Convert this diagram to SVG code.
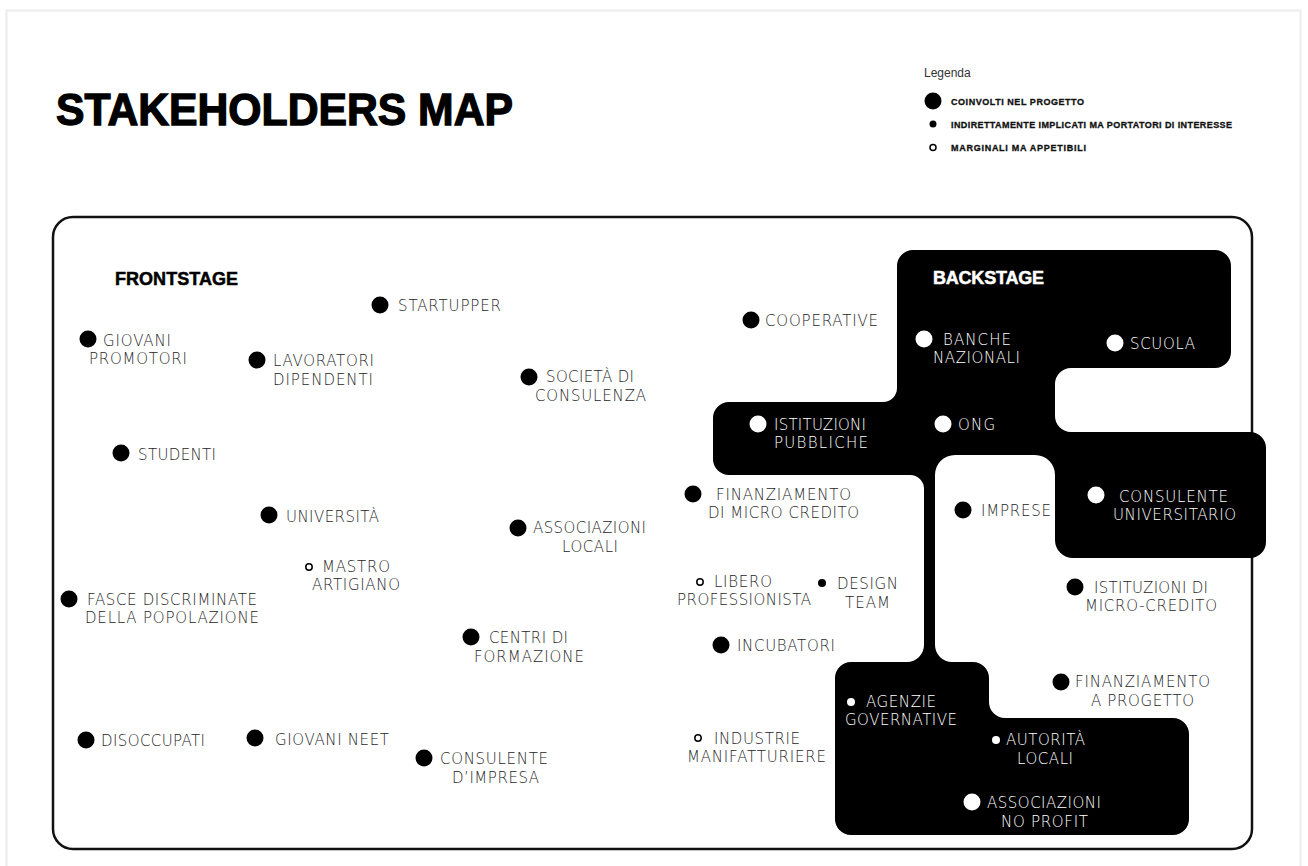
<svg xmlns="http://www.w3.org/2000/svg" width="1308" height="866" viewBox="0 0 1308 866">
<style>
.t{font-family:"DejaVu Sans","Open Sans",sans-serif;font-size:15px;font-weight:200;fill:#262626;text-anchor:middle}
.w{font-family:"DejaVu Sans","Open Sans",sans-serif;font-size:15px;font-weight:200;fill:#ffffff;text-anchor:middle}
.h{font-family:"Liberation Sans",Arial,sans-serif;font-weight:bold}
.lg{font-family:"Liberation Sans",Arial,sans-serif;font-weight:bold;font-size:9px;fill:#111;stroke:#111;stroke-width:0.3}
.big{fill:#000}
.bigw{fill:#fff}
.sm{fill:#000}
.smw{fill:#fff}
.ho{fill:#fff;stroke:#000;stroke-width:1.5}
</style>
<rect x="0" y="0" width="1308" height="866" fill="#ffffff"/>
<rect x="6.5" y="10.5" width="1294" height="880" fill="none" stroke="#ececec" stroke-width="2"/>

<text class="h" x="56" y="125" font-size="44" textLength="457" lengthAdjust="spacingAndGlyphs" fill="#000" stroke="#000" stroke-width="1.3">STAKEHOLDERS MAP</text>

<g id="legend">
<text x="924" y="77" font-family="Liberation Sans, Arial, sans-serif" font-size="12" fill="#333">Legenda</text>
<circle cx="933" cy="101" r="8.5" fill="#000"/>
<text class="lg" x="951" y="104.5" textLength="133">COINVOLTI NEL PROGETTO</text>
<circle cx="933" cy="124" r="3.5" fill="#000"/>
<text class="lg" x="951" y="127.5" textLength="281">INDIRETTAMENTE IMPLICATI MA PORTATORI DI INTERESSE</text>
<circle cx="933" cy="147.5" r="3" class="ho"/>
<text class="lg" x="951" y="151" textLength="135">MARGINALI MA APPETIBILI</text>
</g>

<rect id="frame" x="53" y="217" width="1199" height="632" rx="20" fill="none" stroke="#111" stroke-width="2.5"/>

<g id="backstage-area">
<path fill="#000" d="M897,266 A16,16 0 0 1 913,250 H1215 A16,16 0 0 1 1231,266 V352 A16,16 0 0 1 1215,368 H1071 A16,16 0 0 0 1055,384 V416 A16,16 0 0 0 1071,432 H1250 A16,16 0 0 1 1266,448 V542 A16,16 0 0 1 1250,558 H1073 A18,18 0 0 1 1055,540 V475 A20,20 0 0 0 1035,455 H955 A20,20 0 0 0 935,475 V645 A17,17 0 0 0 952,662 H973 A16,16 0 0 1 989,678 V702 A16,16 0 0 0 1005,718 H1173 A16,16 0 0 1 1189,734 V819 A16,16 0 0 1 1173,835 H851 A16,16 0 0 1 835,819 V678 A16,16 0 0 1 851,662 H907 A17,17 0 0 0 924,645 V489 A14,14 0 0 0 910,475 H729 A16,16 0 0 1 713,459 V418 A16,16 0 0 1 729,402 H883 A14,14 0 0 0 897,388 Z"/>
<text class="h" x="933" y="284" font-size="18" textLength="111" fill="#fff" stroke="#fff" stroke-width="0.5">BACKSTAGE</text>
</g>

<text id="frontstage-title" class="h" x="115" y="285" font-size="18" textLength="123" fill="#000" stroke="#000" stroke-width="0.5">FRONTSTAGE</text>

<g id="connectors"></g>

<g id="giovani-promotori"><circle class="big" cx="88" cy="339" r="8.5"/><text class="t" x="137" y="346" textLength="68">GIOVANI</text><text class="t" x="138" y="364" textLength="98">PROMOTORI</text></g>
<g id="startupper"><circle class="big" cx="380" cy="305" r="8.5"/><text class="t" x="449.5" y="311" textLength="103">STARTUPPER</text></g>
<g id="lavoratori-dipendenti"><circle class="big" cx="257" cy="360" r="8.5"/><text class="t" x="323.5" y="366" textLength="101">LAVORATORI</text><text class="t" x="323" y="385" textLength="100">DIPENDENTI</text></g>
<g id="studenti"><circle class="big" cx="121" cy="453" r="8.5"/><text class="t" x="177" y="460" textLength="78">STUDENTI</text></g>
<g id="universita"><circle class="big" cx="269" cy="515" r="8.5"/><text class="t" x="332.5" y="522" textLength="93">UNIVERSITÀ</text></g>
<g id="mastro-artigiano"><circle class="ho" cx="309" cy="567" r="3.2"/><text class="t" x="356" y="572" textLength="68">MASTRO</text><text class="t" x="356" y="590" textLength="88">ARTIGIANO</text></g>
<g id="fasce-discriminate"><circle class="big" cx="69" cy="599" r="8.5"/><text class="t" x="172" y="605" textLength="170">FASCE DISCRIMINATE</text><text class="t" x="172" y="623" textLength="174">DELLA POPOLAZIONE</text></g>
<g id="disoccupati"><circle class="big" cx="86" cy="740" r="8.5"/><text class="t" x="153" y="746" textLength="104">DISOCCUPATI</text></g>
<g id="giovani-neet"><circle class="big" cx="255" cy="738" r="8.5"/><text class="t" x="332" y="745" textLength="114">GIOVANI NEET</text></g>
<g id="consulente-impresa"><circle class="big" cx="424" cy="758" r="8.5"/><text class="t" x="494" y="764" textLength="108">CONSULENTE</text><text class="t" x="495.5" y="783" textLength="87">D’IMPRESA</text></g>
<g id="centri-formazione"><circle class="big" cx="471" cy="637" r="8.5"/><text class="t" x="528.5" y="643" textLength="79">CENTRI DI</text><text class="t" x="529" y="662" textLength="110">FORMAZIONE</text></g>
<g id="societa-consulenza"><circle class="big" cx="529" cy="377" r="8.5"/><text class="t" x="590" y="382" textLength="88">SOCIETÀ DI</text><text class="t" x="590.5" y="401" textLength="111">CONSULENZA</text></g>
<g id="associazioni-locali"><circle class="big" cx="518" cy="528" r="8.5"/><text class="t" x="589.5" y="533" textLength="113">ASSOCIAZIONI</text><text class="t" x="590" y="552" textLength="56">LOCALI</text></g>

<g id="cooperative"><circle class="big" cx="751" cy="320" r="8.5"/><text class="t" x="821.5" y="326" textLength="113">COOPERATIVE</text></g>
<g id="finanziamento-micro-credito"><circle class="big" cx="693" cy="494" r="8.5"/><text class="t" x="783.5" y="500" textLength="135">FINANZIAMENTO</text><text class="t" x="783.5" y="518" textLength="151">DI MICRO CREDITO</text></g>
<g id="libero-professionista"><circle class="ho" cx="700" cy="582" r="3.2"/><text class="t" x="743" y="587" textLength="58">LIBERO</text><text class="t" x="744" y="605" textLength="134">PROFESSIONISTA</text></g>
<g id="design-team"><circle class="sm" cx="822" cy="583" r="4"/><text class="t" x="867.5" y="589" textLength="61">DESIGN</text><text class="t" x="867.5" y="608" textLength="45">TEAM</text></g>
<g id="incubatori"><circle class="big" cx="721" cy="645" r="8.5"/><text class="t" x="786" y="651" textLength="98">INCUBATORI</text></g>
<g id="industrie-manifatturiere"><circle class="ho" cx="698" cy="738" r="3.2"/><text class="t" x="757" y="744" textLength="86">INDUSTRIE</text><text class="t" x="756.5" y="762" textLength="139">MANIFATTURIERE</text></g>
<g id="imprese"><circle class="big" cx="963" cy="510" r="8.5"/><text class="t" x="1016" y="516" textLength="70">IMPRESE</text></g>
<g id="istituzioni-micro-credito"><circle class="big" cx="1075" cy="587" r="8.5"/><text class="t" x="1151" y="593" textLength="114">ISTITUZIONI DI</text><text class="t" x="1151" y="611" textLength="132">MICRO-CREDITO</text></g>
<g id="finanziamento-progetto"><circle class="big" cx="1061" cy="682" r="8.5"/><text class="t" x="1142.5" y="687" textLength="135">FINANZIAMENTO</text><text class="t" x="1142.5" y="706" textLength="103">A PROGETTO</text></g>

<g id="banche-nazionali"><circle class="bigw" cx="924" cy="339" r="8.5"/><text class="w" x="977" y="345" textLength="68">BANCHE</text><text class="w" x="976.5" y="363" textLength="87">NAZIONALI</text></g>
<g id="scuola"><circle class="bigw" cx="1115" cy="343" r="8.5"/><text class="w" x="1162.5" y="349" textLength="65">SCUOLA</text></g>
<g id="istituzioni-pubbliche"><circle class="bigw" cx="758" cy="424" r="8.5"/><text class="w" x="820" y="430" textLength="92">ISTITUZIONI</text><text class="w" x="821" y="448" textLength="94">PUBBLICHE</text></g>
<g id="ong"><circle class="bigw" cx="943" cy="424" r="8.5"/><text class="w" x="976.5" y="430" textLength="37">ONG</text></g>
<g id="consulente-universitario"><circle class="bigw" cx="1096" cy="495" r="8.5"/><text class="w" x="1173.5" y="502" textLength="109">CONSULENTE</text><text class="w" x="1174.5" y="520" textLength="123">UNIVERSITARIO</text></g>
<g id="agenzie-governative"><circle class="smw" cx="851" cy="702" r="4"/><text class="w" x="901" y="707" textLength="70">AGENZIE</text><text class="w" x="901" y="725" textLength="112">GOVERNATIVE</text></g>
<g id="autorita-locali"><circle class="smw" cx="996" cy="740" r="4"/><text class="w" x="1045.5" y="745" textLength="79">AUTORITÀ</text><text class="w" x="1045" y="764" textLength="56">LOCALI</text></g>
<g id="associazioni-no-profit"><circle class="bigw" cx="972" cy="802" r="8.5"/><text class="w" x="1044" y="808" textLength="114">ASSOCIAZIONI</text><text class="w" x="1044.5" y="827" textLength="87">NO PROFIT</text></g>
</svg>
